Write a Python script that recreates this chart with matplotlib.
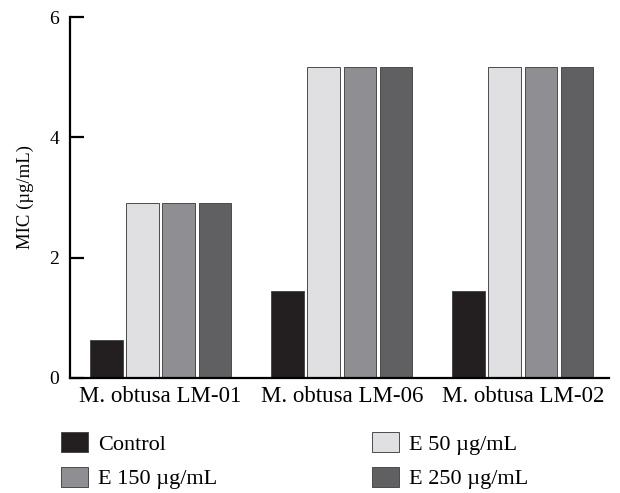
import numpy as np
import matplotlib
matplotlib.use('Agg')
import matplotlib.pyplot as plt

plt.rcParams['font.family'] = ['Liberation Serif', 'DejaVu Serif']

# strains and MIC values (ug/mL)
strains = ['M. obtusa LM-01', 'M. obtusa LM-06', 'M. obtusa LM-02']
control = [0.62, 1.44, 1.44]
e50 = [2.9, 5.18, 5.18]
e150 = [2.9, 5.18, 5.18]
e250 = [2.9, 5.18, 5.18]

series = [('Control', control, '#231f20'),
          ('E 50 µg/mL', e50, '#e0e0e2'),
          ('E 150 µg/mL', e150, '#8f8f93'),
          ('E 250 µg/mL', e250, '#606062')]

fig = plt.figure(figsize=(6.2, 4.93), dpi=100)
ax = fig.add_axes([0.113, 0.234, 0.869, 0.731])

x = np.arange(len(strains))
step = 0.2
width = 0.18
bars = {}
for i, (name, vals, col) in enumerate(series):
    bars[name] = ax.bar(x + (i - 1.5) * step, vals, width, color=col,
                        edgecolor='#4a4a4a', linewidth=0.7, label=name)

ax.set_xlim(-0.5, 2.475)
ax.set_ylim(0, 6)
ax.set_yticks([0, 2, 4, 6])
ax.set_xticks(x)
ax.set_xticklabels(strains, fontsize=16.5)
ax.tick_params(axis='x', length=0, pad=6)
ax.tick_params(axis='y', direction='in', length=10, width=1.6, labelsize=14, pad=8)
ax.set_ylabel('MIC (µg/mL)', fontsize=13.5, labelpad=11)

ax.spines['top'].set_visible(False)
ax.spines['right'].set_visible(False)
ax.spines['left'].set_linewidth(1.6)
ax.spines['bottom'].set_linewidth(1.6)

# legend order so rows read: Control / E 50, E 150 / E 250
order = ['Control', 'E 150 µg/mL', 'E 50 µg/mL', 'E 250 µg/mL']
fig.legend([bars[n] for n in order], order, ncol=2, loc='upper left',
           bbox_to_anchor=(61 / 620, 1 - 432 / 493), frameon=False, fontsize=16,
           handlelength=1.2, handleheight=1.0, handletextpad=0.45,
           columnspacing=7.0, labelspacing=0.55, borderpad=0, borderaxespad=0)

plt.savefig('out.png', dpi=100)
